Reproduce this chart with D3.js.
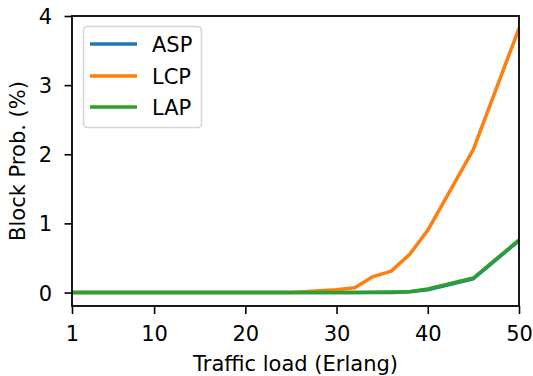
<!DOCTYPE html>
<html><head><meta charset="utf-8">
<script src="https://cdn.jsdelivr.net/npm/d3@7"></script>
<style>
body{margin:0;background:#fff;}
text{font-family:"DejaVu Sans",sans-serif;fill:#000;}
</style></head>
<body><svg id="c" width="533" height="376"></svg>
<script>
const loads = [1,5,10,15,20,25,30,32,34,36,38,40,45,50];
const asp = [0,0,0,0,0,0,0,0,0,0,0.01,0.04,0.2,0.75];
const lcp = [0,0,0,0,0,0,0.04,0.07,0.23,0.31,0.55,0.9,2.07,3.82];
const lap = [0,0,0,0,0,0,0,0,0.003,0.006,0.012,0.05,0.21,0.76];
const xTicks = [1,10,20,30,40,50];
const yTicks = [0,1,2,3,4];
const seriesNames = ["ASP","LCP","LAP"];
const seriesColors = ["#1f77b4","#ff7f0e","#2ca02c"];
const seriesData = [asp,lcp,lap];

const svg = d3.select("#c");
const L=72,R=519,T=16,B=306;
const x = d3.scaleLinear().domain([1,50]).range([L,R]);
const y = d3.scaleLinear().domain([-0.195,4]).range([B,T]);
const fs = 21;

// lines
const line = d3.line().x((d,i)=>x(loads[i])).y(d=>y(d));
const g = svg.append("g");
g.append("clipPath").attr("id","clip").append("rect").attr("x",L).attr("y",T).attr("width",R-L).attr("height",B-T);
seriesData.forEach((s,k)=>{
  g.append("path").datum(s).attr("d",line).attr("fill","none")
   .attr("stroke",seriesColors[k]).attr("stroke-width",3.5)
   .attr("stroke-linejoin","round").attr("stroke-linecap","square")
   .attr("clip-path","url(#clip)");
});

// axes
const xa = svg.append("g").attr("transform",`translate(0,${B})`)
  .call(d3.axisBottom(x).tickValues(xTicks).tickFormat(d3.format("d")).tickSize(8).tickPadding(12.5).tickSizeOuter(0));
const ya = svg.append("g").attr("transform",`translate(${L},0)`)
  .call(d3.axisLeft(y).tickValues(yTicks).tickFormat(d3.format("d")).tickSize(7.5).tickPadding(12.5).tickSizeOuter(0));
[xa,ya].forEach(a=>{
  a.select(".domain").remove();
  a.selectAll(".tick line").attr("stroke","#000").attr("stroke-width",1.6);
  a.selectAll(".tick text").style("font-family","DejaVu Sans").style("font-size",fs+"px").attr("fill","#000");
});
xa.selectAll(".tick text").attr("dy","0.71em");
ya.selectAll(".tick text").attr("dy","0.36em");

// frame
svg.append("rect").attr("x",L).attr("y",T).attr("width",R-L).attr("height",B-T)
  .attr("fill","none").attr("stroke","#000").attr("stroke-width",1.8);

// labels
svg.append("text").attr("x",(L+R)/2).attr("y",371).attr("text-anchor","middle")
  .style("font-size",fs+"px").text("Traffic load (Erlang)");
svg.append("text").attr("transform",`translate(25,${(T+B)/2}) rotate(-90)`)
  .attr("text-anchor","middle").style("font-size",fs+"px").text("Block Prob. (%)");

// legend
const lg = svg.append("g");
lg.append("rect").attr("x",83.5).attr("y",26.5).attr("width",118).attr("height",101)
  .attr("rx",4).attr("fill","#fff").attr("fill-opacity",0.8).attr("stroke","#d6d6d6").attr("stroke-width",1.6);
const ly = [44,76,107];
seriesNames.forEach((n,k)=>{
  lg.append("line").attr("x1",90).attr("x2",137).attr("y1",ly[k]).attr("y2",ly[k])
    .attr("stroke",seriesColors[k]).attr("stroke-width",3.5);
  lg.append("text").attr("x",152).attr("y",ly[k]).attr("dy","0.36em")
    .style("font-size",fs+"px").text(n);
});
</script></body></html>
